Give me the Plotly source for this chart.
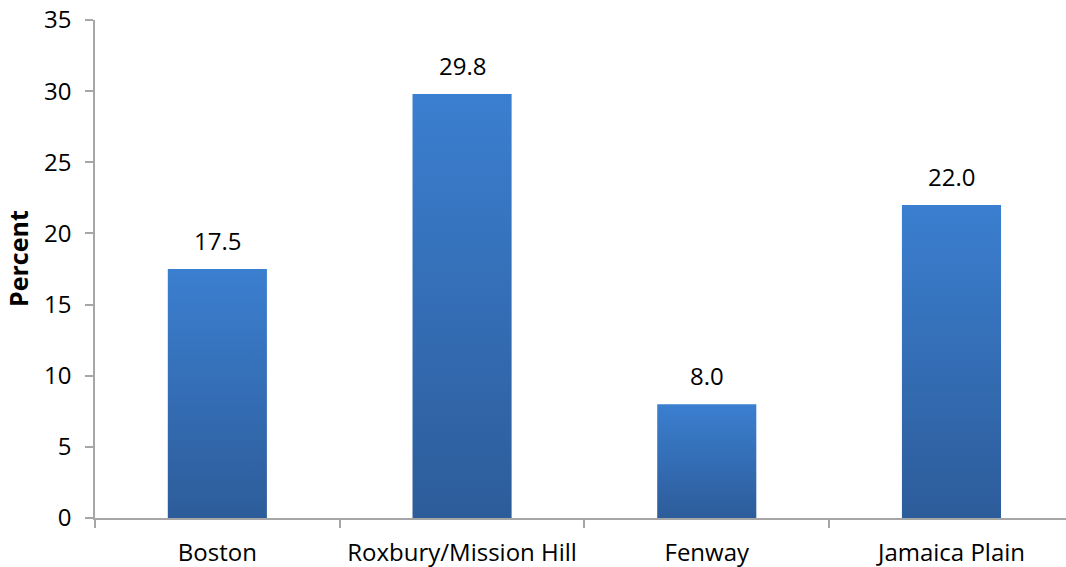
import plotly.graph_objects as go

# Share of residents, by area
categories = ["Boston", "Roxbury/Mission Hill", "Fenway", "Jamaica Plain"]
values = [17.5, 29.8, 8.0, 22.0]
value_labels = ["17.5", "29.8", "8.0", "22.0"]
y_ticks = [0, 5, 10, 15, 20, 25, 30, 35]

BAR_WIDTH = 0.405
TOP_COLOR = "rgb(59,127,208)"
BOTTOM_COLOR = "rgb(45,92,154)"
AXIS_COLOR = "#A6A6A6"
FONT = "Open Sans"

fig = go.Figure()

# Each bar is a filled rectangle with a vertical gradient (dark at the base, lighter at the top)
for i, (cat, v) in enumerate(zip(categories, values)):
    x0, x1 = i - BAR_WIDTH / 2, i + BAR_WIDTH / 2
    fig.add_trace(go.Scatter(
        x=[x0, x1, x1, x0, x0],
        y=[0, 0, v, v, 0],
        mode="lines",
        line=dict(width=0),
        fill="toself",
        fillgradient=dict(
            type="vertical",
            colorscale=[[0, BOTTOM_COLOR], [1, TOP_COLOR]],
        ),
        name=cat,
        hoverinfo="skip",
        showlegend=False,
    ))

# Value labels above the bars
for i, (v, label) in enumerate(zip(values, value_labels)):
    fig.add_annotation(
        x=i, y=v, text=label,
        showarrow=False,
        yanchor="bottom",
        yshift=10,
        font=dict(family=FONT, size=24, color="black"),
    )

# Rotated axis title
fig.add_annotation(
    text="<b>Percent</b>",
    xref="paper", yref="paper",
    x=0, y=0.5, xshift=-77, yshift=10,
    xanchor="center", yanchor="middle",
    textangle=-90,
    showarrow=False,
    font=dict(family=FONT, size=25, color="black"),
)

fig.update_layout(
    width=1066,
    height=567,
    margin=dict(l=95, r=0, t=20, b=49),
    paper_bgcolor="white",
    plot_bgcolor="white",
    font=dict(family=FONT, color="black"),
    xaxis=dict(
        range=[-0.5, 3.468],
        tickvals=list(range(len(categories))),
        ticktext=categories,
        ticks="",
        tickfont=dict(family=FONT, size=24, color="black"),
        ticklabelstandoff=12,
        showline=True,
        linecolor=AXIS_COLOR,
        linewidth=1.5,
        showgrid=False,
        zeroline=False,
        minor=dict(
            tickvals=[i - 0.5 for i in range(len(categories) + 1)],
            ticks="outside",
            ticklen=8,
            tickcolor=AXIS_COLOR,
            tickwidth=1.5,
            showgrid=False,
        ),
    ),
    yaxis=dict(
        range=[0, 35],
        tickvals=y_ticks,
        ticks="outside",
        ticklen=8,
        tickcolor=AXIS_COLOR,
        tickwidth=1.5,
        tickfont=dict(family=FONT, size=24, color="black"),
        ticklabelstandoff=9,
        showline=True,
        linecolor=AXIS_COLOR,
        linewidth=1.5,
        showgrid=False,
        zeroline=False,
    ),
)

fig.write_html("out.html")
